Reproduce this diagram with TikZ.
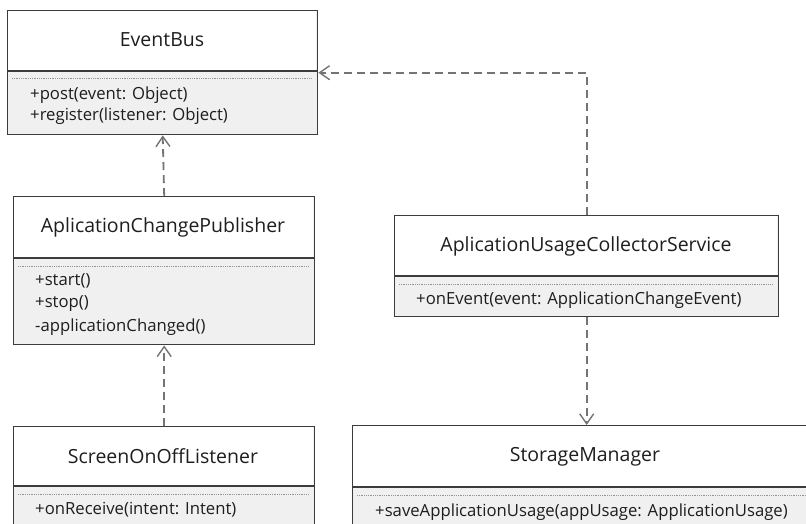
\documentclass[tikz,border=0pt]{standalone}
\usepackage{fontspec}
\setmainfont{Open Sans}
\usetikzlibrary{arrows.meta}
\definecolor{edge}{HTML}{3C3C3C}
\definecolor{opsfill}{HTML}{F0F0F0}
\definecolor{linkgray}{HTML}{747474}
\definecolor{ink}{HTML}{1E1E1E}
\tikzset{
  classbox/.style={draw=edge, line width=1.4pt, fill=opsfill, rectangle, inner sep=0pt},
  headfill/.style={fill=white},
  divider/.style={draw=edge, line width=1.4pt},
  sepdots/.style={draw=gray!85, line width=1pt, dash pattern=on 0.9pt off 0.9pt},
  title/.style={font=\fontsize{19.5}{22}\selectfont, text=ink, inner sep=0pt, anchor=center},
  op/.style={font=\fontsize{16.7}{18}\selectfont, text=ink, inner sep=0pt, anchor=west},
  dep/.style={draw=linkgray, line width=1.8pt, dash pattern=on 8pt off 5pt,
    -{Straight Barb[length=10pt,width=14pt,line width=1.4pt]}},
}
\newcommand{\umlclass}[6]{%
  % #1 name, #2 left, #3 top, #4 right, #5 bottom, #6 divider
  \node[classbox, minimum width={#4-#2}, minimum height={#5-#3}, anchor=north west] (#1) at (#2,#3) {};
  \fill[headfill] (#2+0.7,#3+0.7) rectangle (#4-0.7,#6);
  \draw[divider] (#2,#6) -- (#4,#6);
  \draw[sepdots] (#2+5,#6+8) -- (#4-5,#6+8);
}
\begin{document}
\begin{tikzpicture}[x=1pt,y=-1pt]
\useasboundingbox (0,0) rectangle (806,524);

% EventBus
\umlclass{eb}{7}{10}{317}{134}{71}
\node[title] (ebt) at (162,40) {EventBus};
\node[op] (eb1) at (30,95) {+post(event: Object)};
\node[op] (eb2) at (30,116) {+register(listener: Object)};

% AplicationChangePublisher
\umlclass{acp}{13}{196}{314}{344}{258}
\node[title] (acpt) at (163,227) {AplicationChangePublisher};
\node[op] (acp1) at (35,281) {+start()};
\node[op] (acp2) at (35,304) {+stop()};
\node[op] (acp3) at (35,327) {-applicationChanged()};

% ScreenOnOffListener
\umlclass{sool}{13}{426}{314}{560}{486}
\node[title] (soolt) at (163,456) {ScreenOnOffListener};
\node[op] (sool1) at (35,510) {+onReceive(intent: Intent)};

% AplicationUsageCollectorService
\umlclass{aucs}{394}{215}{778}{316}{276}
\node[title] (aucst) at (586,246) {AplicationUsageCollectorService};
\node[op] (aucs1) at (416,300) {+onEvent(event: ApplicationChangeEvent)};

% StorageManager
\umlclass{sm}{352}{425}{818}{560}{487}
\node[title] (smt) at (585,457) {StorageManager};
\node[op] (sm1) at (375,512) {+saveApplicationUsage(appUsage: ApplicationUsage)};

% dependencies
\draw[dep] (acp.north) -- (eb.south);
\draw[dep] (sool.north) -- (acp.south);
\draw[dep] (aucs.north) |- (eb.east);
\draw[dep] (aucs.south) -- (aucs.south |- sm.north);
\end{tikzpicture}
\end{document}
